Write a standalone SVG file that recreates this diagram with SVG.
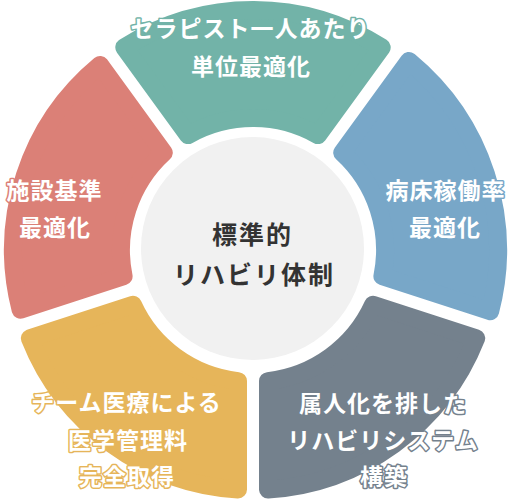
<svg xmlns="http://www.w3.org/2000/svg" width="512" height="500" viewBox="0 0 512 500">
<style>
.seg{stroke-width:18;stroke-linejoin:round}
.lbl{font-family:"Noto Sans CJK JP","Noto Sans",sans-serif;font-weight:700;font-size:23px;letter-spacing:1px;fill:#ffffff;text-anchor:middle;stroke-width:3;stroke-linejoin:round;paint-order:stroke}
.ctr{font-family:"Noto Sans CJK JP","Noto Sans",sans-serif;font-weight:700;font-size:25px;letter-spacing:2px;fill:#333333;text-anchor:middle}
</style>
<rect width="512" height="500" fill="#ffffff"/>
<g id="node-teal">
<path class="seg" fill="#72b3a8" stroke="#72b3a8" d="M124.3 47.4 A240 240 0 0 1 381.7 47.4 L317.9 135.1 A132 132 0 0 0 188.1 135.1 Z"/>
<text class="lbl" stroke="#72b3a8" x="250.5" y="37">セラピスト一人あたり</text>
<text class="lbl" stroke="#72b3a8" x="251" y="75">単位最適化</text>
</g>
<g id="node-blue">
<path class="seg" fill="#78a7c8" stroke="#78a7c8" d="M408.9 61 A245 245 0 0 1 490.2 311.3 L382.4 276.3 A132 132 0 0 0 342.2 152.7 Z"/>
<text class="lbl" stroke="#78a7c8" x="445.5" y="199">病床稼働率</text>
<text class="lbl" stroke="#78a7c8" x="445" y="236">最適化</text>
</g>
<g id="node-gray">
<path class="seg" fill="#74818d" stroke="#74818d" d="M476.2 338.3 A240 240 0 0 1 268 489.5 L268 381.1 A132 132 0 0 0 373.1 304.8 Z"/>
<text class="lbl" stroke="#74818d" x="383" y="412">属人化を排した</text>
<text class="lbl" stroke="#74818d" x="383" y="449">リハビリシステム</text>
<text class="lbl" stroke="#74818d" x="384" y="485">構築</text>
</g>
<g id="node-yellow">
<path class="seg" fill="#e6b55a" stroke="#e6b55a" d="M238 489.5 A240 240 0 0 1 29.8 338.3 L132.9 304.8 A132 132 0 0 0 238 381.1 Z"/>
<text class="lbl" stroke="#e6b55a" x="126.5" y="411">チーム医療による</text>
<text class="lbl" stroke="#e6b55a" x="128" y="449">医学管理料</text>
<text class="lbl" stroke="#e6b55a" x="127" y="485">完全取得</text>
</g>
<g id="node-red">
<path class="seg" fill="#db8077" stroke="#db8077" d="M20.6 309.8 A240 240 0 0 1 100.1 65 L163.8 152.7 A132 132 0 0 0 123.6 276.3 Z"/>
<text class="lbl" stroke="#db8077" x="54.5" y="199">施設基準</text>
<text class="lbl" stroke="#db8077" x="55" y="236">最適化</text>
</g>
<g id="node-center">
<circle cx="252.5" cy="248.5" r="111.5" fill="#f1f1f1"/>
<text class="ctr" x="252.5" y="244">標準的</text>
<text class="ctr" x="254" y="284">リハビリ体制</text>
</g>
</svg>
